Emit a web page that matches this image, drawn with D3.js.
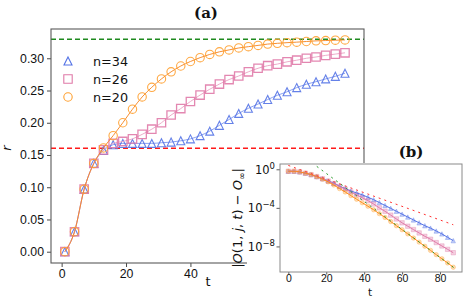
<!DOCTYPE html>
<html>
<head>
<meta charset="utf-8">
<script src="https://cdn.jsdelivr.net/npm/d3@7"></script>
<style>
  body { margin: 0; background: #fff; }
  svg { display: block; font-family: "DejaVu Sans", sans-serif; }
</style>
</head>
<body>
<svg id="chart" width="463" height="298"></svg>
<script>
// panel (a): r(t) for three sizes
var tA = [1, 4, 7, 10, 13, 16, 19, 22, 25, 28, 31, 34, 37, 40, 43, 46, 49, 52, 55, 58, 61, 64, 67, 70, 73, 76, 79, 82, 85, 88];
var rN34 = [0.000, 0.031, 0.097, 0.137, 0.157, 0.166, 0.168, 0.168, 0.168, 0.168, 0.169, 0.170, 0.172, 0.175, 0.180, 0.187, 0.196, 0.205, 0.2145, 0.2224, 0.229, 0.236, 0.2426, 0.248, 0.2545, 0.2597, 0.2637, 0.268, 0.272, 0.2768];
var rN26 = [0.000, 0.031, 0.097, 0.137, 0.158, 0.168, 0.171, 0.175, 0.182, 0.190, 0.200, 0.212, 0.222, 0.233, 0.243, 0.252, 0.260, 0.267, 0.2725, 0.279, 0.2845, 0.2885, 0.291, 0.2945, 0.297, 0.300, 0.302, 0.3045, 0.3065, 0.3085];
var rN20 = [0.000, 0.031, 0.097, 0.137, 0.161, 0.180, 0.200, 0.221, 0.240, 0.255, 0.268, 0.279, 0.288, 0.295, 0.301, 0.306, 0.310, 0.313, 0.316, 0.318, 0.320, 0.322, 0.3232, 0.3242, 0.325, 0.326, 0.327, 0.3275, 0.328, 0.3285];
var rUpper = 0.3295;
var rLower = 0.1604;
// 60 and 80 sit under the inset, so only these show
var ticksAx = [0, 20, 40];
var ticksAy = [0.00, 0.05, 0.10, 0.15, 0.20, 0.25, 0.30];

// panel (b): log10 |O(1,j,t) - O_inf|
var tB = [0, 3, 6, 9, 12, 15, 18, 21, 24, 27, 30, 33, 36, 39, 42, 45, 48, 51, 54, 57, 60, 63, 66, 69, 72, 75, 78, 81, 84, 87];
var logN34 = [-0.15, -0.15, -0.22, -0.35, -0.5, -0.7, -0.92, -1.15, -1.4, -1.7, -1.95, -2.2, -2.4, -2.6, -2.85, -3.1, -3.4, -3.7, -4.0, -4.3, -4.6, -4.9, -5.2, -5.5, -5.8, -6.05, -6.35, -6.65, -7.0, -7.35];
var logN26 = [-0.15, -0.15, -0.22, -0.35, -0.5, -0.7, -0.93, -1.17, -1.43, -1.72, -2.0, -2.3, -2.6, -2.9, -3.2, -3.55, -3.95, -4.3, -4.7, -5.1, -5.5, -5.85, -6.2, -6.55, -6.9, -7.2, -7.55, -7.9, -8.25, -8.6];
var logN20 = [-0.15, -0.15, -0.22, -0.35, -0.5, -0.72, -0.97, -1.25, -1.58, -1.95, -2.3, -2.68, -3.05, -3.42, -3.78, -4.15, -4.55, -4.95, -5.37, -5.8, -6.22, -6.65, -7.08, -7.5, -7.93, -8.36, -8.8, -9.23, -9.66, -10.1];
var redFitT = [0, 87];
var redFitLog = [0.45, -5.7];
var greenFitT = [15, 88];
var greenFitLog = [0.35, -10.25];
var ticksBx = [0, 20, 40, 60, 80];
var ticksBy = [0, -4, -8];

var series = [
    { name: 'n=34', r: rN34, logv: logN34, kind: 'tri', color: '#5473e6', line: '#7d95ee' },
    { name: 'n=26', r: rN26, logv: logN26, kind: 'sq', color: '#e07aa8', line: '#eba0c3' },
    { name: 'n=20', r: rN20, logv: logN20, kind: 'circ', color: '#ffa030', line: '#f5821c' }
];

function markerPath(kind, h) {
    if (kind === 'tri') return 'M0,' + (-h) + 'L' + h + ',' + h + 'L' + (-h) + ',' + h + 'Z';
    if (kind === 'sq') return 'M' + (-h) + ',' + (-h) + 'h' + (2 * h) + 'v' + (2 * h) + 'h' + (-2 * h) + 'Z';
    return 'M' + h + ',0A' + h + ',' + h + ' 0 1,1 ' + (-h) + ',0A' + h + ',' + h + ' 0 1,1 ' + h + ',0Z';
}

var svg = d3.select('#chart');
var spine = '#5a5a5a';

// ---------- panel (a)
var A = { left: 51, top: 29, right: 364, bottom: 263 };
var xA = d3.scaleLinear().domain([-3.3, 93.9]).range([A.left, A.right]);
var yA = d3.scaleLinear().domain([-0.0175, 0.3454]).range([A.bottom, A.top]);

var gA = svg.append('g');
gA.append('defs').append('clipPath').attr('id', 'clipA')
    .append('rect').attr('x', A.left).attr('y', A.top)
    .attr('width', A.right - A.left).attr('height', A.bottom - A.top);

var axA = gA.append('g').attr('transform', 'translate(0,' + A.bottom + ')')
    .call(d3.axisBottom(xA).tickValues(ticksAx).tickSize(4).tickPadding(2).tickFormat(d3.format('d')));
var ayA = gA.append('g').attr('transform', 'translate(' + A.left + ',0)')
    .call(d3.axisLeft(yA).tickValues(ticksAy).tickSize(4).tickPadding(3).tickFormat(d3.format('.2f')));
[axA, ayA].forEach(function(ax) {
    ax.select('.domain').remove();
    ax.selectAll('line').attr('stroke', '#333').attr('stroke-width', 0.9);
    ax.selectAll('text').attr('fill', '#111').style('font-size', '12.3px');
});

var plotA = gA.append('g').attr('clip-path', 'url(#clipA)');
plotA.append('line').attr('x1', A.left).attr('x2', A.right)
    .attr('y1', yA(rUpper)).attr('y2', yA(rUpper))
    .attr('stroke', '#1f8a1f').attr('stroke-width', 1.4).attr('stroke-dasharray', '5,3');
plotA.append('line').attr('x1', A.left).attr('x2', A.right)
    .attr('y1', yA(rLower)).attr('y2', yA(rLower))
    .attr('stroke', '#ff1a1a').attr('stroke-width', 1.4).attr('stroke-dasharray', '5,3');

var lineA = d3.line().curve(d3.curveMonotoneX)
    .x(function(d) { return xA(d[0]); })
    .y(function(d) { return yA(d[1]); });

series.forEach(function(s) {
    var pts = tA.map(function(t, i) { return [t, s.r[i]]; });
    plotA.append('path').datum(pts).attr('d', lineA)
        .attr('fill', 'none').attr('stroke', s.line).attr('stroke-width', 0.9);
    plotA.selectAll('path.m-' + s.kind).data(pts).enter().append('path')
        .attr('class', 'm-' + s.kind)
        .attr('d', markerPath(s.kind, s.kind === 'tri' ? 4 : 4.2))
        .attr('transform', function(d) { return 'translate(' + xA(d[0]) + ',' + yA(d[1]) + ')'; })
        .attr('fill', 'none').attr('stroke', s.color)
        .attr('stroke-width', s.kind === 'sq' ? 1.3 : 1.1)
        .attr('stroke-opacity', 0.9);
});

gA.append('rect').attr('x', A.left).attr('y', A.top)
    .attr('width', A.right - A.left).attr('height', A.bottom - A.top)
    .attr('fill', 'none').attr('stroke', spine).attr('stroke-width', 1.1);

// legend
var leg = gA.append('g');
series.forEach(function(s, i) {
    var y = 61 + i * 18;
    leg.append('path').attr('d', markerPath(s.kind, s.kind === 'tri' ? 4 : 4.2))
        .attr('transform', 'translate(68,' + y + ')')
        .attr('fill', 'none').attr('stroke', s.color).attr('stroke-width', 1.1);
    leg.append('text').attr('x', 93).attr('y', y + 4.6)
        .style('font-size', '12.8px').attr('fill', '#111').text(s.name);
});

gA.append('text').attr('x', 208).attr('y', 286).attr('text-anchor', 'middle')
    .style('font-size', '13px').attr('fill', '#111').text('t');
gA.append('text').attr('transform', 'translate(11,148) rotate(-90)')
    .attr('text-anchor', 'middle').style('font-size', '13px').style('font-style', 'italic')
    .attr('fill', '#111').text('r');
gA.append('text').attr('x', 206).attr('y', 18).attr('text-anchor', 'middle')
    .style('font-family', '"DejaVu Serif", serif').style('font-weight', 'bold')
    .style('font-size', '15px').attr('fill', '#111').text('(a)');

// ---------- panel (b), inset with its own white area
var B = { left: 280, top: 164, right: 462, bottom: 272 };
var xB = d3.scaleLinear().domain([-4.4, 91.6]).range([B.left, B.right]);
var yB = d3.scaleLog().domain([Math.pow(10, -10.6), Math.pow(10, 0.6)]).range([B.bottom, B.top]);

var gB = svg.append('g');
gB.append('rect').attr('x', 247).attr('y', 163).attr('width', 463 - 247).attr('height', 298 - 163)
    .attr('fill', '#fff');
gB.append('defs').append('clipPath').attr('id', 'clipB')
    .append('rect').attr('x', B.left).attr('y', B.top)
    .attr('width', B.right - B.left).attr('height', B.bottom - B.top);

var axB = gB.append('g').attr('transform', 'translate(0,' + B.bottom + ')')
    .call(d3.axisBottom(xB).tickValues(ticksBx).tickSize(2.5).tickPadding(0).tickFormat(d3.format('d')));
axB.select('.domain').remove();
axB.selectAll('line').attr('stroke', '#333').attr('stroke-width', 0.8);
axB.selectAll('text').attr('fill', '#111').style('font-size', '10.5px');

var ayB = gB.append('g');
ticksBy.forEach(function(e) {
    var y = yB(Math.pow(10, e));
    ayB.append('line').attr('x1', B.left - 3.5).attr('x2', B.left).attr('y1', y).attr('y2', y)
        .attr('stroke', '#333').attr('stroke-width', 0.8);
    var t = ayB.append('text').attr('x', B.left - 5).attr('y', y + 4)
        .attr('text-anchor', 'end').attr('fill', '#111').style('font-size', '11.5px');
    t.append('tspan').text('10');
    t.append('tspan').attr('dy', -5).style('font-size', '8.5px').text(e === 0 ? '0' : '\u2212' + (-e));
});

var plotB = gB.append('g').attr('clip-path', 'url(#clipB)');
var lineB = d3.line()
    .x(function(d) { return xB(d[0]); })
    .y(function(d) { return yB(Math.pow(10, d[1])); });

series.forEach(function(s) {
    var pts = tB.map(function(t, i) { return [t, s.logv[i]]; });
    plotB.selectAll('path.mb-' + s.kind).data(pts).enter().append('path')
        .attr('class', 'mb-' + s.kind)
        .attr('d', markerPath(s.kind, 2.2))
        .attr('transform', function(d) { return 'translate(' + xB(d[0]) + ',' + yB(Math.pow(10, d[1])) + ')'; })
        .attr('fill', s.color).attr('fill-opacity', 0.35)
        .attr('stroke', s.color).attr('stroke-opacity', 0.5).attr('stroke-width', 0.7);
});
series.forEach(function(s) {
    var pts = tB.map(function(t, i) { return [t, s.logv[i]]; });
    plotB.append('path').datum(pts).attr('d', lineB.curve(d3.curveMonotoneX))
        .attr('fill', 'none').attr('stroke', s.kind === 'circ' ? '#ff8c1a' : s.color).attr('stroke-width', 1);
});
plotB.append('path').datum(redFitT.map(function(t, i) { return [t, redFitLog[i]]; }))
    .attr('d', lineB.curve(d3.curveLinear)).attr('fill', 'none')
    .attr('stroke', '#ff3030').attr('stroke-width', 1).attr('stroke-dasharray', '2,4');
plotB.append('path').datum(greenFitT.map(function(t, i) { return [t, greenFitLog[i]]; }))
    .attr('d', lineB.curve(d3.curveLinear)).attr('fill', 'none')
    .attr('stroke', '#2a9a2a').attr('stroke-width', 1).attr('stroke-dasharray', '2,4');

gB.append('rect').attr('x', B.left).attr('y', B.top)
    .attr('width', B.right - B.left).attr('height', B.bottom - B.top)
    .attr('fill', 'none').attr('stroke', '#8a8a8a').attr('stroke-width', 1);

gB.append('text').attr('x', 370).attr('y', 295.6).attr('text-anchor', 'middle')
    .style('font-size', '10.5px').attr('fill', '#111').text('t');

var yl = gB.append('text').attr('transform', 'translate(242,218) rotate(-90)')
    .attr('text-anchor', 'middle').style('font-size', '13px').attr('fill', '#111');
yl.append('tspan').text('|');
yl.append('tspan').style('font-style', 'italic').text('O');
yl.append('tspan').text('(1, ');
yl.append('tspan').style('font-style', 'italic').text('j');
yl.append('tspan').text(', ');
yl.append('tspan').style('font-style', 'italic').text('t');
yl.append('tspan').text(') \u2212 ');
yl.append('tspan').style('font-style', 'italic').text('O');
yl.append('tspan').attr('dy', 3).style('font-size', '9px').text('\u221e');
yl.append('tspan').attr('dy', -3).text('|');

gB.append('text').attr('x', 411).attr('y', 157).attr('text-anchor', 'middle')
    .style('font-family', '"DejaVu Serif", serif').style('font-weight', 'bold')
    .style('font-size', '15px').attr('fill', '#111').text('(b)');
</script>
</body>
</html>
